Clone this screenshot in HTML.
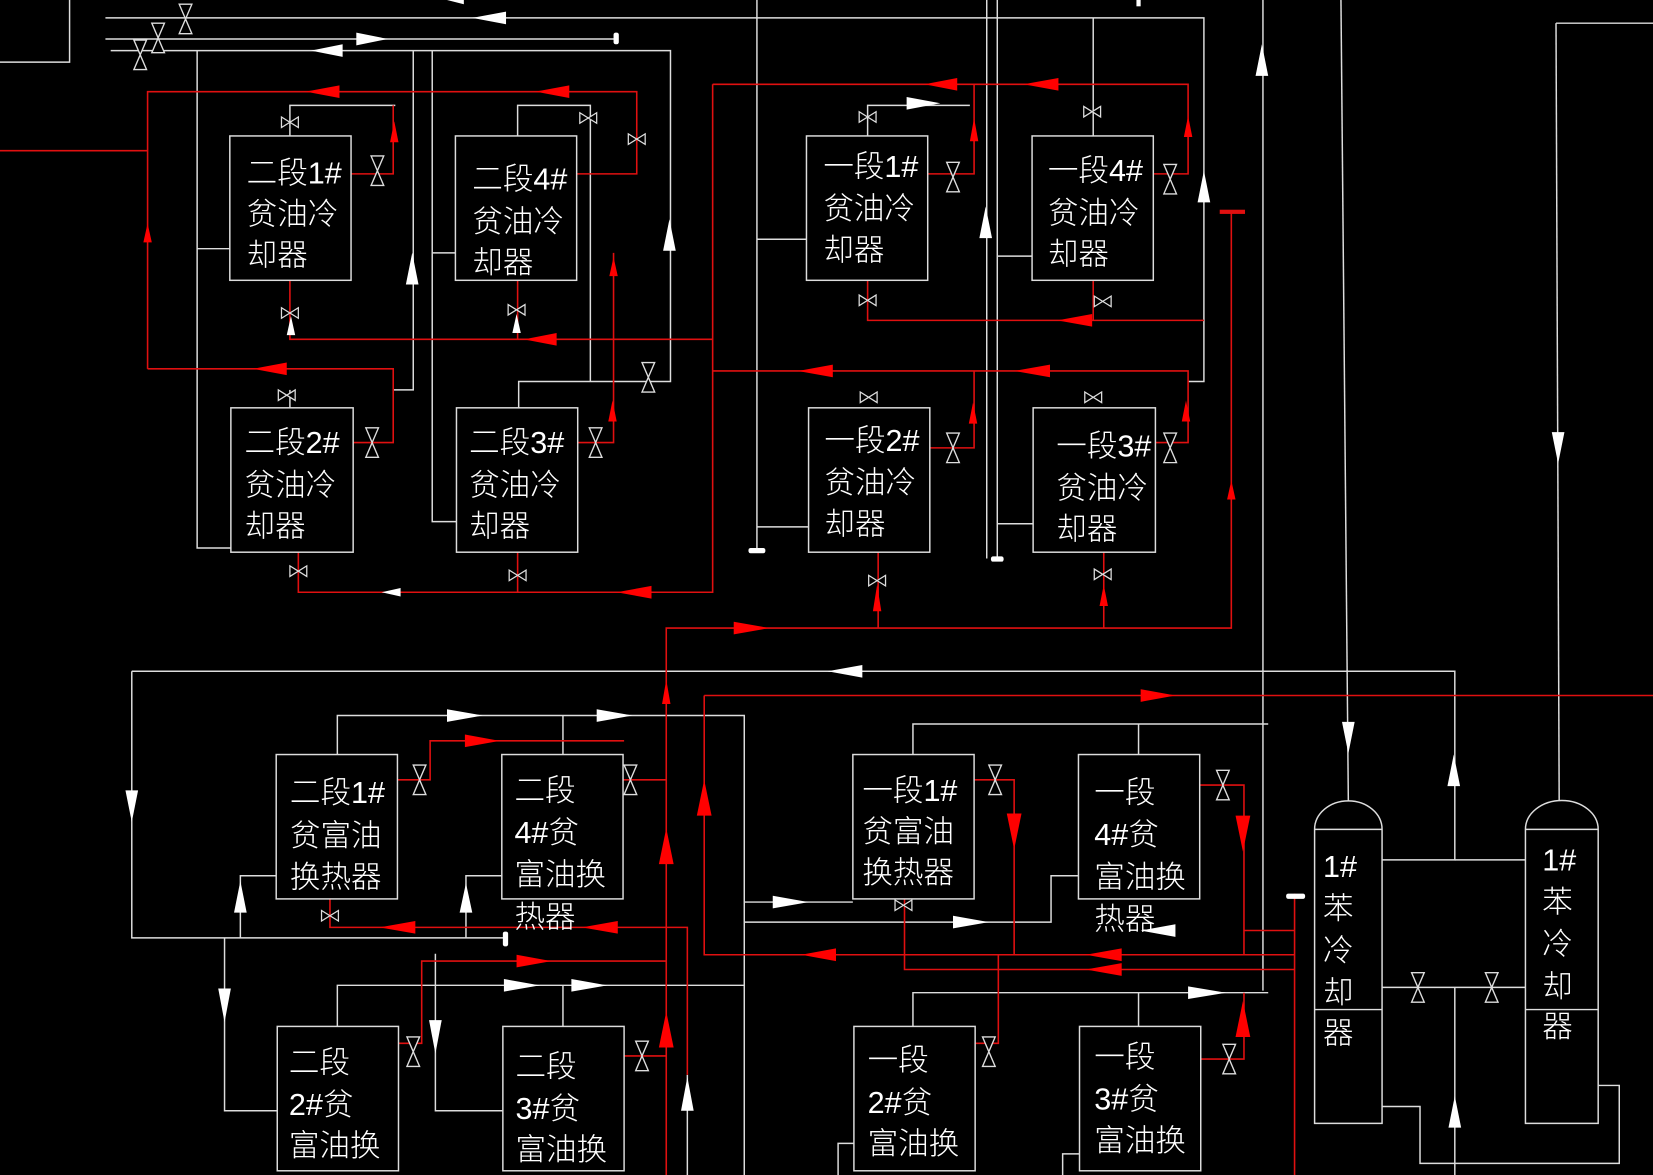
<!DOCTYPE html>
<html><head><meta charset="utf-8"><style>
html,body{margin:0;padding:0;background:#000;overflow:hidden}
svg{display:block}
text{font-family:"Liberation Sans","Noto Sans CJK SC","WenQuanYi Zen Hei",sans-serif;fill:#fff;font-size:29px;font-weight:300}
.w{stroke:#ddd;stroke-width:1.4;fill:none}
.r{stroke:#e01010;stroke-width:1.5;fill:none}
.b{stroke:#ddd;stroke-width:1.4;fill:#000}
</style></head><body>
<svg width="1653" height="1175" viewBox="0 0 1568 1115" preserveAspectRatio="none" xmlns="http://www.w3.org/2000/svg">
<defs>
<g id="vv"><path d="M-6,-14 L6,-14 L-6,14 L6,14 Z" stroke="#ddd" stroke-width="1.3" fill="#000"/></g>
<g id="vh"><path d="M-8,-5 L-8,5 L8,-5 L8,5 Z" stroke="#ddd" stroke-width="1.2" fill="#000"/></g>
</defs>
<!-- white lines -->
<g class="w">
<path d="M0,59 L66,59 L66,0"/>
<path d="M100,17 L1142,17 L1142,362 L1127,362"/>
<path d="M100,37 L585,37"/>
<path d="M105,48 L636,48 L636,362 L492,362 L492,387"/>
<path d="M187,48 L187,520 L219,520"/>
<path d="M187,236 L218,236"/>
<path d="M392,48 L392,370 L373,370"/>
<path d="M410,48 L410,495 L433,495"/>
<path d="M410,240 L432,240"/>
<path d="M275,129 L275,100 L375,100"/>
<path d="M491,129 L491,100 L560,100 L560,362"/>
<path d="M275,387 L275,370"/>
<path d="M718,0 L718,522"/><path d="M718,227 L765,227"/><path d="M718,500 L767,500"/>
<path d="M936,0 L936,530"/><path d="M946,0 L946,530"/>
<path d="M946,243 L979,243"/><path d="M946,497 L980,497"/>
<path d="M1037,17 L1037,129"/>
<path d="M823,129 L823,100 L920,100"/>
<path d="M1198,0 L1198,940"/>
<path d="M1272,0 L1279,760"/>
<path d="M1476,22 L1568,22"/><path d="M1476,22 L1479,760"/>
<path d="M125,637 L1380,637 L1380,816 L1311,816"/><path d="M1380,816 L1447,816"/>
<path d="M125,637 L125,890 L480,890"/>
<path d="M320,716 L320,679 L706,679 L706,1115"/>
<path d="M534,716 L534,679"/>
<path d="M866,716 L866,687 L1203,687"/>
<path d="M1080,716 L1080,687"/>
<path d="M228,890 L228,831 L262,831"/>
<path d="M213,890 L213,1054 L263,1054"/>
<path d="M442,890 L442,831 L476,831"/>
<path d="M413,905 L413,1054 L477,1054"/>
<path d="M320,974 L320,935 L706,935"/>
<path d="M534,974 L534,935"/>
<path d="M706,856 L809,856"/>
<path d="M706,875 L962,875 L997,875 L997,831 L1023,831"/>
<path d="M866,974 L866,942 L1203,942"/>
<path d="M1080,974 L1080,942"/>
<path d="M1311,937 L1447,937"/>
<path d="M1380,937 L1380,1115"/>
<path d="M1311,1050 L1347,1050 L1347,1104 L1536,1104 L1536,1030 L1516,1030"/>
<path d="M652,1020 L652,1115"/>
<path d="M810,1085 L795,1085 L795,1115"/><path d="M1024,1095 L1008,1095 L1008,1115"/>
</g>
<!-- red lines -->
<g class="r">
<path d="M0,143 L140,143"/>
<path d="M140,350 L140,87 L604,87 L604,165 L547,165"/>
<path d="M140,350 L373,350 L373,420 L335,420"/>
<path d="M333,165 L373,165 L373,100"/>
<path d="M275,266 L275,322 L676,322"/>
<path d="M491,266 L491,322"/>
<path d="M548,420 L582,420 L582,240 L582,322"/>
<path d="M676,80 L676,562 L283,562 L283,524"/>
<path d="M491,524 L491,562"/>
<path d="M676,80 L1127,80 L1127,165 L1094,165"/>
<path d="M880,165 L924,165 L924,80"/>
<path d="M676,352 L1127,352 L1127,420 L1096,420"/>
<path d="M882,425 L924,425 L924,352"/>
<path d="M823,266 L823,304 L1142,304"/>
<path d="M1037,266 L1037,304"/>
<path d="M1168,200 L1168,596 L632,596 L632,1115"/>
<path d="M833,524 L833,596"/><path d="M1047,524 L1047,596"/>
<path d="M668,660 L1568,660"/>
<path d="M668,660 L668,906 L1228,906"/>
<path d="M1228,848 L1228,1115"/>
<path d="M1228,883 L1180,883"/><path d="M1228,920 L858,920 L858,853"/>
<path d="M377,740 L408,740 L408,703 L592,703"/>
<path d="M591,740 L632,740"/>
<path d="M313,853 L313,880 L632,880 L652,880 L652,1020"/>
<path d="M378,990 L400,990 L400,912 L632,912"/>
<path d="M592,1002 L632,1002"/>
<path d="M924,740 L962,740 L962,906"/>
<path d="M1138,745 L1180,745 L1180,906"/>
<path d="M925,990 L947,990 L947,906"/>
<path d="M1139,1005 L1180,1005 L1180,942"/>
</g>
<rect x="1157" y="199" width="24" height="4" fill="#e01010"/>
<rect x="1220" y="848" width="18" height="5" rx="2" fill="#fff"/>
<rect x="710" y="520" width="16" height="5" rx="2" fill="#fff"/>
<rect x="940" y="528" width="12" height="5" rx="2" fill="#fff"/>
<rect x="582" y="31" width="5" height="11" rx="2" fill="#fff"/>
<rect x="477" y="884" width="5" height="14" rx="2" fill="#fff"/>
<rect x="1078" y="0" width="4" height="6" fill="#fff"/>
<!-- boxes -->
<g class="b">
<rect x="218" y="129" width="115" height="137"/><rect x="432" y="129" width="115" height="137"/>
<rect x="765" y="129" width="115" height="137"/><rect x="979" y="129" width="115" height="137"/>
<rect x="219" y="387" width="116" height="137"/><rect x="433" y="387" width="115" height="137"/>
<rect x="767" y="387" width="115" height="137"/><rect x="980" y="387" width="116" height="137"/>
<rect x="262" y="716" width="115" height="137"/><rect x="476" y="716" width="115" height="137"/>
<rect x="809" y="716" width="115" height="137"/><rect x="1023" y="716" width="115" height="137"/>
<rect x="263" y="974" width="115" height="137"/><rect x="477" y="974" width="115" height="137"/>
<rect x="810" y="974" width="115" height="137"/><rect x="1024" y="974" width="115" height="137"/>
<path d="M1247,787 A32,27 0 0 1 1311,787 L1311,1066 L1247,1066 Z"/><path d="M1247,787 L1311,787 M1247,958 L1311,958"/>
<path d="M1447,787 A34,27 0 0 1 1516,787 L1516,1066 L1447,1066 Z"/><path d="M1447,787 L1516,787 M1447,958 L1516,958"/>
</g>
<!-- valves -->
<use href="#vv" x="358" y="162"/><use href="#vv" x="353" y="420"/><use href="#vv" x="565" y="420"/>
<use href="#vv" x="615" y="358"/><use href="#vv" x="904" y="168"/><use href="#vv" x="1110" y="170"/>
<use href="#vv" x="904" y="425"/><use href="#vv" x="1110" y="425"/>
<use href="#vv" x="398" y="740"/><use href="#vv" x="598" y="740"/><use href="#vv" x="944" y="740"/><use href="#vv" x="1160" y="745"/>
<use href="#vv" x="392" y="998"/><use href="#vv" x="609" y="1002"/><use href="#vv" x="938" y="998"/><use href="#vv" x="1166" y="1005"/>
<use href="#vv" x="150" y="36"/><use href="#vv" x="133" y="52"/><use href="#vv" x="176" y="18"/>
<use href="#vv" x="1345" y="937"/><use href="#vv" x="1415" y="937"/>
<use href="#vh" x="275" y="116"/><use href="#vh" x="275" y="297"/><use href="#vh" x="490" y="294"/>
<use href="#vh" x="272" y="375"/><use href="#vh" x="283" y="542"/><use href="#vh" x="491" y="546"/>
<use href="#vh" x="558" y="112"/><use href="#vh" x="604" y="132"/>
<use href="#vh" x="823" y="111"/><use href="#vh" x="1036" y="106"/><use href="#vh" x="823" y="285"/><use href="#vh" x="1046" y="286"/>
<use href="#vh" x="824" y="377"/><use href="#vh" x="1037" y="377"/><use href="#vh" x="832" y="551"/><use href="#vh" x="1046" y="545"/>
<use href="#vh" x="313" y="869"/><use href="#vh" x="857" y="859"/>
<!-- arrows white -->
<g fill="#fff">
<path d="M424,0 L440,-4 L440,4Z"/><path d="M448,17 L480,11 L480,23Z"/><path d="M368,37 L338,31 L338,43Z"/><path d="M295,48 L325,42 L325,54Z"/>
<path d="M391,240 L385,270 L397,270Z"/><path d="M635,208 L629,238 L641,238Z"/><path d="M276,300 L272,318 L280,318Z"/><path d="M490,298 L486,316 L494,316Z"/>
<path d="M892,98 L860,92 L860,104Z"/><path d="M935,196 L929,226 L941,226Z"/><path d="M1142,162 L1136,192 L1148,192Z"/>
<path d="M1197,42 L1191,72 L1203,72Z"/><path d="M1478,440 L1472,410 L1484,410Z"/><path d="M1279,715 L1273,685 L1285,685Z"/>
<path d="M1379,716 L1373,746 L1385,746Z"/><path d="M1380,1040 L1374,1070 L1386,1070Z"/>
<path d="M785,637 L818,631 L818,643Z"/><path d="M125,780 L119,750 L131,750Z"/>
<path d="M458,679 L424,673 L424,685Z"/><path d="M600,679 L566,673 L566,685Z"/>
<path d="M228,836 L222,866 L234,866Z"/><path d="M442,838 L436,866 L448,866Z"/>
<path d="M213,970 L207,938 L219,938Z"/><path d="M413,1000 L407,968 L419,968Z"/>
<path d="M512,935 L478,929 L478,941Z"/><path d="M576,935 L542,929 L542,941Z"/>
<path d="M652,1022 L646,1054 L658,1054Z"/>
<path d="M767,856 L733,850 L733,862Z"/><path d="M938,875 L904,869 L904,881Z"/>
<path d="M1163,942 L1127,936 L1127,948Z"/><path d="M1082,883 L1115,877 L1115,889Z"/>
<path d="M362,562 L380,558 L380,566Z"/>
</g>
<!-- arrows red -->
<g fill="#ff0000">
<path d="M290,87 L322,81 L322,93Z"/><path d="M508,87 L540,81 L540,93Z"/><path d="M240,350 L272,344 L272,356Z"/>
<path d="M374,115 L370,135 L378,135Z"/><path d="M140,212 L136,230 L144,230Z"/><path d="M582,244 L578,262 L586,262Z"/>
<path d="M581,380 L577,400 L585,400Z"/><path d="M497,322 L528,316 L528,328Z"/>
<path d="M585,562 L618,556 L618,568Z"/>
<path d="M877,80 L908,74 L908,86Z"/><path d="M971,80 L1004,74 L1004,86Z"/><path d="M1127,110 L1123,130 L1131,130Z"/><path d="M924,112 L920,134 L928,134Z"/>
<path d="M757,352 L790,346 L790,358Z"/><path d="M962,352 L996,346 L996,358Z"/>
<path d="M1003,304 L1036,298 L1036,310Z"/><path d="M923,382 L919,402 L927,402Z"/><path d="M1125,380 L1121,400 L1129,400Z"/>
<path d="M1168,456 L1164,474 L1172,474Z"/><path d="M832,555 L828,580 L836,580Z"/><path d="M1047,555 L1043,575 L1051,575Z"/>
<path d="M730,596 L696,590 L696,602Z"/><path d="M632,645 L628,668 L636,668Z"/>
<path d="M1115,660 L1082,654 L1082,666Z"/><path d="M474,703 L441,697 L441,709Z"/>
<path d="M668,740 L661,774 L675,774Z"/><path d="M632,786 L625,820 L639,820Z"/>
<path d="M962,806 L955,772 L969,772Z"/><path d="M1179,808 L1172,774 L1186,774Z"/>
<path d="M360,880 L394,874 L394,886Z"/><path d="M552,880 L586,874 L586,886Z"/>
<path d="M523,912 L490,906 L490,918Z"/><path d="M632,960 L625,994 L639,994Z"/>
<path d="M760,906 L793,900 L793,912Z"/><path d="M1030,906 L1064,900 L1064,912Z"/><path d="M1030,920 L1064,914 L1064,926Z"/>
<path d="M1179,950 L1172,984 L1186,984Z"/>
</g>
<!-- labels -->
<text x="234" y="174">二段1#</text><text x="234" y="213">贫油冷</text><text x="234" y="252">却器</text>
<text x="448" y="180">二段4#</text><text x="448" y="220">贫油冷</text><text x="448" y="259">却器</text>
<text x="781" y="168">一段1#</text><text x="781" y="208">贫油冷</text><text x="781" y="247">却器</text>
<text x="994" y="172">一段4#</text><text x="994" y="212">贫油冷</text><text x="994" y="251">却器</text>
<text x="232" y="430">二段2#</text><text x="232" y="470">贫油冷</text><text x="232" y="509">却器</text>
<text x="445" y="430">二段3#</text><text x="445" y="470">贫油冷</text><text x="445" y="509">却器</text>
<text x="782" y="428">一段2#</text><text x="782" y="468">贫油冷</text><text x="782" y="507">却器</text>
<text x="1002" y="433">一段3#</text><text x="1002" y="473">贫油冷</text><text x="1002" y="512">却器</text>
<text x="275" y="762">二段1#</text><text x="275" y="803">贫富油</text><text x="275" y="842">换热器</text>
<text x="488" y="760">二段</text><text x="488" y="800">4#贫</text><text x="488" y="840">富油换</text><text x="488" y="880">热器</text>
<text x="818" y="760">一段1#</text><text x="818" y="799">贫富油</text><text x="818" y="838">换热器</text>
<text x="1038" y="762">一段</text><text x="1038" y="802">4#贫</text><text x="1038" y="842">富油换</text><text x="1038" y="882">热器</text>
<text x="274" y="1018">二段</text><text x="274" y="1058">2#贫</text><text x="274" y="1097">富油换</text>
<text x="489" y="1022">二段</text><text x="489" y="1062">3#贫</text><text x="489" y="1101">富油换</text>
<text x="823" y="1016">一段</text><text x="823" y="1056">2#贫</text><text x="823" y="1095">富油换</text>
<text x="1038" y="1013">一段</text><text x="1038" y="1053">3#贫</text><text x="1038" y="1092">富油换</text>
<text x="1255" y="832">1#</text><text x="1255" y="872">苯</text><text x="1255" y="912">冷</text><text x="1255" y="952">却</text><text x="1255" y="990">器</text>
<text x="1463" y="826">1#</text><text x="1463" y="866">苯</text><text x="1463" y="906">冷</text><text x="1463" y="946">却</text><text x="1463" y="984">器</text>
</svg>
</body></html>
